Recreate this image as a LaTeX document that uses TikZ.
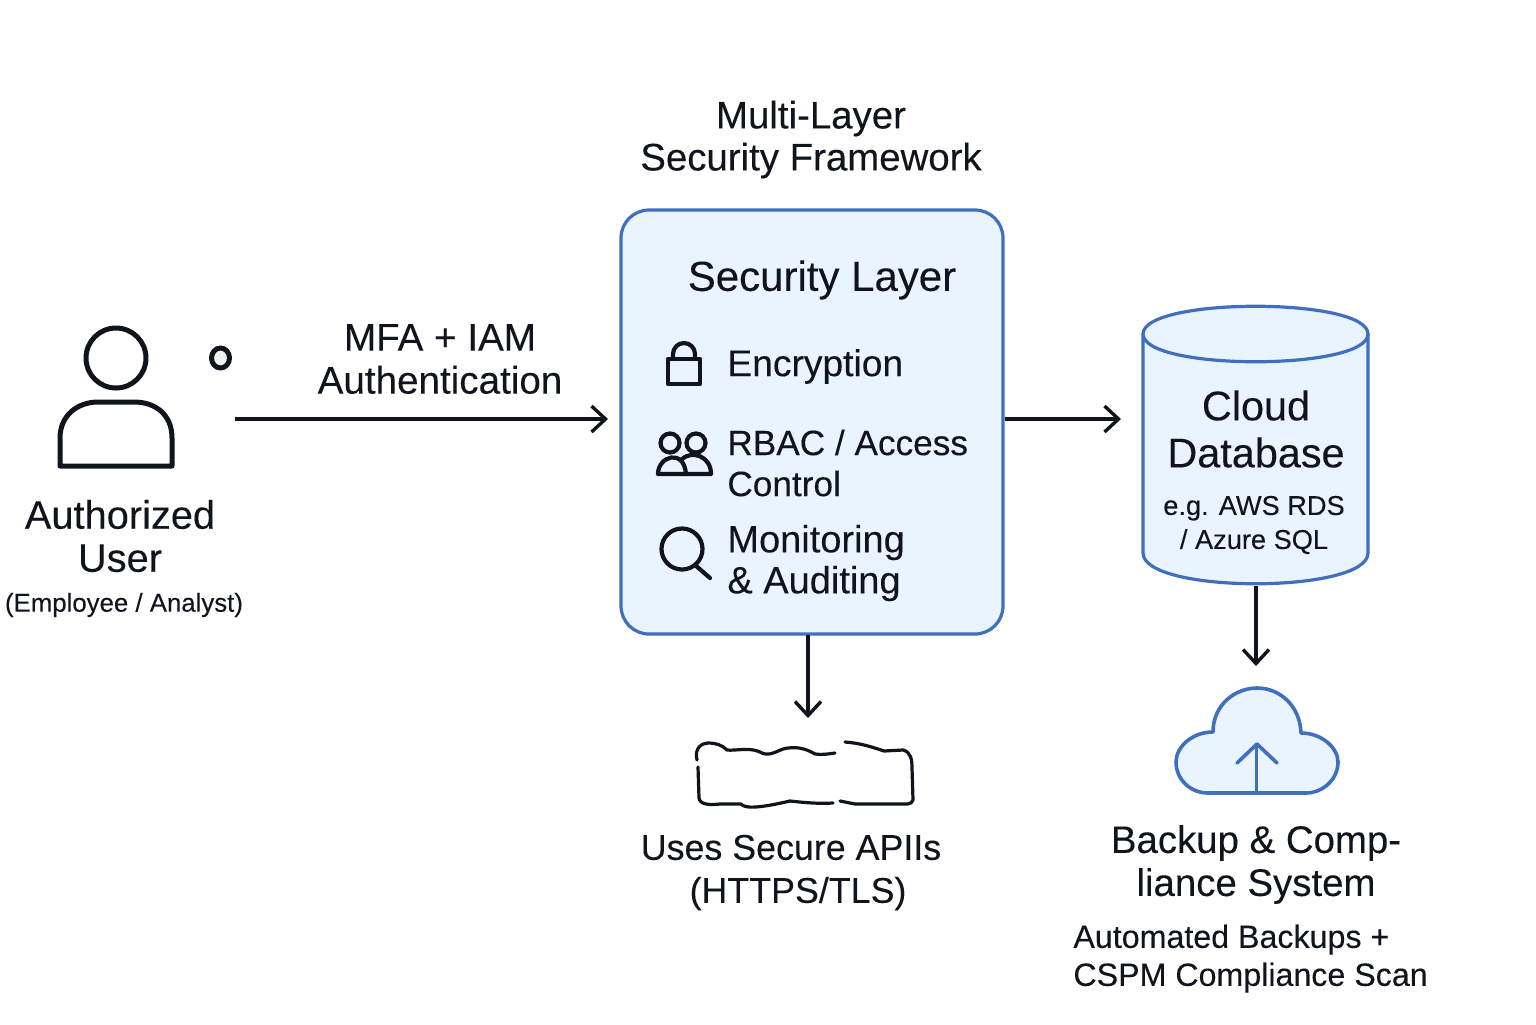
\documentclass[tikz,border=0pt]{standalone}
\usepackage{fontspec}
\setmainfont[FakeBold=0.15]{Liberation Sans}
\usetikzlibrary{arrows.meta}
\definecolor{ink}{HTML}{10141C}
\definecolor{blueline}{HTML}{3F6FBE}
\definecolor{bluefill}{HTML}{EAF4FE}
\tikzset{
 lbl/.style n args={2}{inner sep=0pt,text=ink,align=center,font=\fontsize{#1}{#2}\selectfont},
 lbll/.style n args={2}{inner sep=0pt,text=ink,align=left,anchor=west,font=\fontsize{#1}{#2}\selectfont},
 flow/.style={draw=ink,line width=1.7pt,-{Straight Barb[length=7pt,width=13pt,line width=1.7pt]}},
 icon/.style={draw=ink,line width=2.5pt,line join=round,line cap=round},
 thinicon/.style={draw=ink,line width=2.1pt,line join=round,line cap=round},
 scrawl/.style={draw=ink,line width=1.6pt,line join=round,line cap=round},
 bicon/.style={draw=blueline,line width=1.8pt,line join=round,line cap=round}
}
\begin{document}
\begin{tikzpicture}[x=0.5pt,y=-0.5pt]
\useasboundingbox (0,0) rectangle (1536,1024);
% title
\node[lbl={19.2}{21}] (title) at (811,139.5) {Multi-Layer\\Security Framework};
% security box
\node[draw=blueline,line width=1.6pt,fill=bluefill,rounded corners=14pt,minimum width=191pt,minimum height=212pt,inner sep=0pt] (sec) at (812,422) {};
\node[lbl={21}{24}] (sectitle) at (822,280) {Security Layer};
\node[lbll={18.6}{21}] (enc) at (727,366.5) {Encryption};
\node[lbll={17.6}{20.5}] (rbac) at (727,463) {RBAC / Access\\Control};
\node[lbll={19}{20.5}] (mon) at (727,563) {Monitoring\\\& Auditing};
% lock
\draw[thinicon] (668,359) rectangle (700,384);
\draw[thinicon] (673,359) -- (673,354) arc[start angle=180,end angle=0,x radius=11,y radius=-11] -- (695,359);
% people
\draw[thinicon] (670,443) circle[radius=9.5];
\draw[thinicon] (696,443) circle[radius=9.5];
\draw[thinicon] (658,474) .. controls (658,456) and (684,448) .. (686,474) -- cycle;
\draw[thinicon] (686,474) -- (711,474) .. controls (711,456) and (692,450) .. (682,459);
% magnifier
\draw[thinicon] (682,549) circle[radius=20.5];
\draw[thinicon] (695,565) -- (710,578);
% user
\draw[icon] (116,358) circle[radius=30];
\draw[icon] (60,466) -- (60,438) .. controls (60,415) and (78,402) .. (98,402) -- (134,402) .. controls (156,402) and (172,415) .. (172,438) -- (172,466) -- cycle;
\draw[icon,fill=black!6] (220.5,358) circle[x radius=9,y radius=10];
\node[lbl={19.9}{21.5}] (user) at (120,536) {Authorized\\User};
\node[lbl={12.9}{16}] (role) at (124,605) {(Employee / Analyst)};
\coordinate (ustart) at (235,419);
\coordinate (uend) at (608,419);
\node[lbl={19.3}{21.5}] (mfa) at (440,359) {MFA + IAM\\Authentication};
\draw[flow] (ustart) -- (uend);
% database
\draw[draw=blueline,line width=1.6pt,fill=bluefill] (1143,334) -- (1143,553) .. controls (1143,594) and (1368,594) .. (1368,553) -- (1368,334) .. controls (1368,297) and (1143,297) .. (1143,334) -- cycle;
\draw[draw=blueline,line width=1.6pt] (1143,334) .. controls (1143,371) and (1368,371) .. (1368,334);
\coordinate (dbw) at (1121,419);
\coordinate (dbs) at (1256,586);
\coordinate (dbe) at (1256,666);
\node[lbl={20.7}{23.5}] (cloud) at (1256,429) {Cloud\\Database};
\node[lbl={13.6}{17}] (eg) at (1254,525) {e.g. AWS RDS\\/ Azure SQL};
\draw[flow] (sec.east |- dbw) -- (dbw);
\draw[flow] (dbs) -- (dbe);
% API
\coordinate (secs) at (808,635);
\coordinate (apit) at (808,718);
\draw[flow] (secs) -- (apit);
\draw[scrawl] (697,760) .. controls (694,748) and (702,743) .. (708,743) .. controls (716,743) and (722,745) .. (727,750) .. controls (735,751) and (750,747) .. (760,752) .. controls (768,757) and (775,752) .. (783,749) .. controls (795,746) and (805,748) .. (815,754) .. controls (822,755) and (828,754) .. (835,753);
\draw[scrawl] (845,742) .. controls (860,743) and (872,747) .. (884,751) -- (903,750) .. controls (911,752) and (912,760) .. (912,768) -- (913,800) .. controls (912,805) and (905,804) .. (900,804) -- (855,804) -- (840,801);
\draw[scrawl] (698,767) -- (699,798) .. controls (700,805) and (710,805) .. (720,804) -- (741,804) .. controls (745,809) and (760,808) .. (790,801) .. controls (800,802) and (815,804) .. (833,803);
\node[lbl={17.9}{21.5}] (apis) at (791,872.5) {Uses Secure APIIs\\\hspace*{7pt}(HTTPS/TLS)};
% cloud
\draw[bicon,fill=bluefill] (1213,732) .. controls (1213,704) and (1236,688) .. (1257,688) .. controls (1280,688) and (1300,706) .. (1301,733) .. controls (1322,733) and (1338,748) .. (1338,762) .. controls (1338,780) and (1322,793) .. (1306,793) -- (1208,793) .. controls (1190,793) and (1176,779) .. (1176,762) .. controls (1176,747) and (1192,732) .. (1213,732) -- cycle;
\draw[bicon] (1256.5,793) -- (1256.5,745);
\draw[bicon] (1237,763) -- (1257,744) -- (1277,763);
\node[lbl={19.2}{21.5}] (backup) at (1256,864.5) {Backup \& Comp-\\liance System};
\node[lbll={16.1}{19}] (auto) at (1073,958.5) {Automated Backups +\\CSPM Compliance Scan};
\end{tikzpicture}
\end{document}
